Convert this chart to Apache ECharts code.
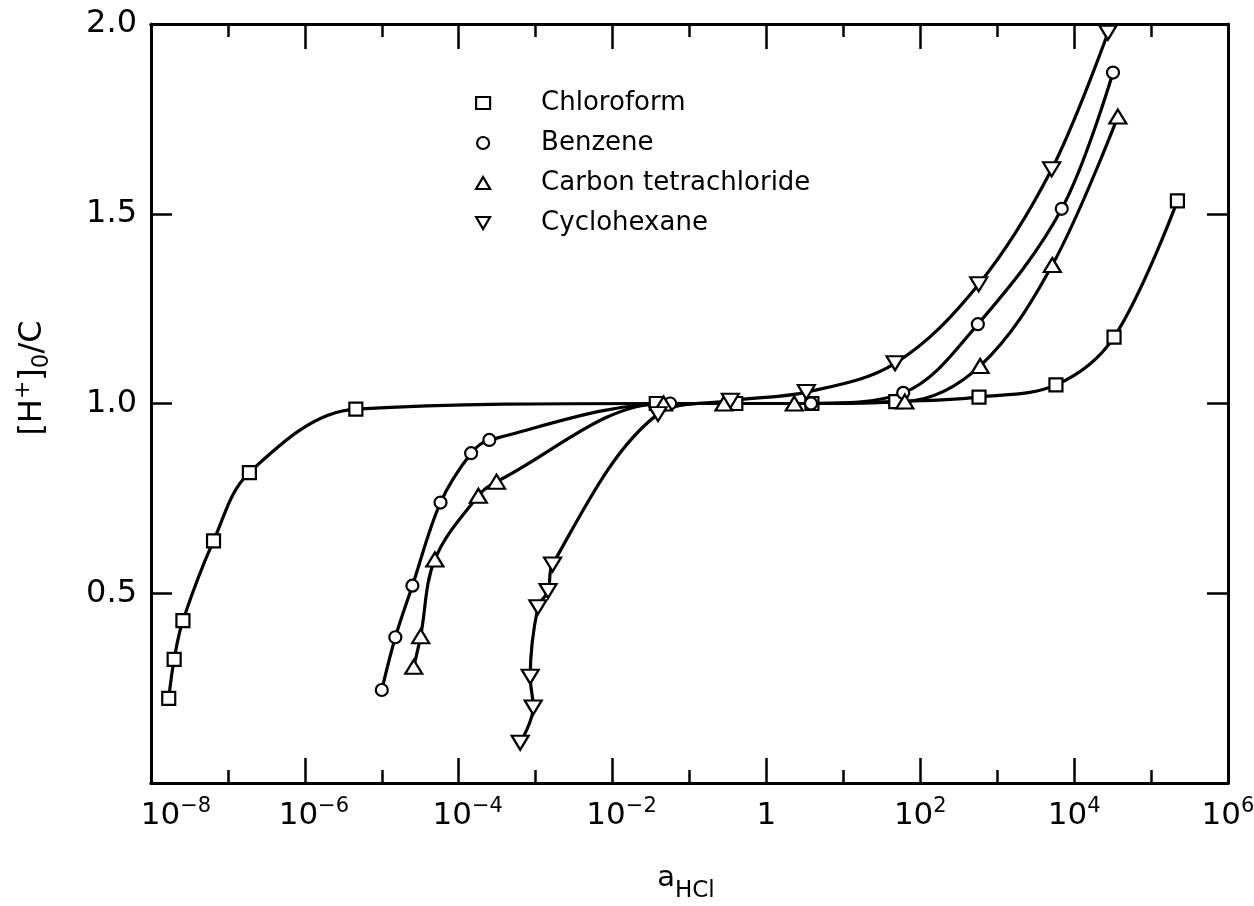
<!DOCTYPE html>
<html>
<head>
<meta charset="utf-8">
<script src="https://cdn.jsdelivr.net/npm/echarts@6/dist/echarts.min.js"></script>
<style>
html,body{margin:0;padding:0;background:#fff;}
#c{width:1254px;height:906px;}
</style>
</head>
<body>
<div id="c"></div>
<script>
// ---- data ----
const seriesNames = ['Chloroform', 'Benzene', 'Carbon tetrachloride', 'Cyclohexane'];

const chloroformA = [1.7e-8, 2.0e-8, 2.6e-8, 6.5e-8, 1.9e-7, 4.6e-6, 3.7e-2, 0.40, 3.9, 48, 580, 5800, 33000, 2.2e5];
const chloroformR = [0.223, 0.326, 0.428, 0.638, 0.818, 0.985, 1.0, 1.0, 1.0, 1.005, 1.017, 1.049, 1.175, 1.534];

const benzeneA = [1.0e-5, 1.5e-5, 2.5e-5, 5.8e-5, 1.45e-4, 2.5e-4, 5.6e-2, 3.8, 60, 560, 6900, 32000];
const benzeneR = [0.245, 0.384, 0.520, 0.739, 0.869, 0.904, 1.0, 1.0, 1.028, 1.209, 1.513, 1.872];

const cclA = [2.6e-5, 3.2e-5, 4.9e-5, 1.8e-4, 3.1e-4, 4.6e-2, 0.28, 2.3, 63, 600, 5200, 37000];
const cclR = [0.306, 0.387, 0.589, 0.757, 0.794, 1.0, 1.0, 1.0, 1.005, 1.099, 1.365, 1.756];

const cyclohexaneA = [6.3e-4, 9.3e-4, 8.5e-4, 1.07e-3, 1.45e-3, 1.66e-3, 3.9e-2, 0.34, 3.3, 47, 575, 5100, 27500];
const cyclohexaneR = [0.106, 0.199, 0.280, 0.463, 0.506, 0.576, 0.972, 1.007, 1.03, 1.106, 1.314, 1.617, 1.977];

const xMin = 1e-8, xMax = 1e6;
const yMin = 0, yMax = 2, yStep = 0.5;

// ---- chart ----
const FONT = 'DejaVu Sans';
const INK = '#000';
const chart = echarts.init(document.getElementById('c'), null, {renderer: 'canvas'});

function pairs(xs, ys) { return xs.map((x, i) => [x, ys[i]]); }

function xLabel(v) {
  const e = Math.round(Math.log10(v));
  if (e === 0) return '{b|1}';
  const sup = (e < 0 ? '\u2212' : '') + Math.abs(e);
  if (e === -8) return '{p8|10}{s|' + sup + '}';
  return (e < 0 ? '{pn|10}' : '{b|10}') + '{s|' + sup + '}';
}

const labelRich = {
  b:  {fontFamily: FONT, fontSize: 31, color: INK, lineHeight: 40},
  pn: {fontFamily: FONT, fontSize: 31, color: INK, lineHeight: 40, padding: [0, 0, 0, 18]},
  p8: {fontFamily: FONT, fontSize: 31, color: INK, lineHeight: 40, padding: [0, 0, 0, 50]},
  s:  {fontFamily: FONT, fontSize: 21, color: INK, lineHeight: 14, verticalAlign: 'top'}
};

function xAxisDef(pos, interval, tickLen, showLabel) {
  return {
    type: 'log', logBase: 10, min: xMin, max: xMax, interval: interval,
    position: pos, gridIndex: 0,
    axisLine: {show: true, onZero: false, lineStyle: {color: INK, width: 3}},
    axisTick: {show: true, inside: true, length: tickLen, lineStyle: {color: INK, width: 2.5}},
    axisLabel: {show: showLabel, margin: 13, formatter: xLabel, rich: labelRich},
    splitLine: {show: false}, minorTick: {show: false}, minorSplitLine: {show: false}
  };
}

function yAxisDef(pos, showLabel) {
  return {
    type: 'value', min: yMin, max: yMax, interval: yStep, position: pos, gridIndex: 0,
    axisLine: {show: true, onZero: false, lineStyle: {color: INK, width: 3}},
    axisTick: {show: true, inside: true, length: 21, lineStyle: {color: INK, width: 2.5}},
    axisLabel: {show: showLabel, showMinLabel: false, margin: 14, color: INK,
      fontFamily: FONT, fontSize: 32, formatter: v => v.toFixed(1)},
    splitLine: {show: false}
  };
}

const symbolStyle = {color: '#fff', borderColor: INK, borderWidth: 2.2};

function lineSeries(name, xs, ys, symbol, size, rotate) {
  return {
    name: name, type: 'line', xAxisIndex: 0, yAxisIndex: 0,
    data: pairs(xs, ys),
    smooth: 0.35,
    symbol: symbol, symbolSize: size, symbolRotate: rotate || 0,
    showSymbol: true, showAllSymbol: true,
    lineStyle: {color: INK, width: 3.2},
    itemStyle: symbolStyle,
    emphasis: {disabled: true},
    z: 3
  };
}

const option = {
  animation: false,
  backgroundColor: '#fff',
  grid: {left: 151, right: 26, top: 24, bottom: 123, containLabel: false, outerBoundsMode: 'none'},
  xAxis: [
    xAxisDef('bottom', 2, 25, true),
    xAxisDef('bottom', 1, 13, false),
    xAxisDef('top', 2, 25, false),
    xAxisDef('top', 1, 13, false)
  ],
  yAxis: [yAxisDef('left', true), yAxisDef('right', false)],
  legend: {
    orient: 'vertical', left: 470, top: 83,
    itemWidth: 14, itemHeight: 12, itemGap: 10,
    textStyle: {fontFamily: FONT, fontSize: 26, color: INK, lineHeight: 30, padding: [0, 0, 0, 46]},
    itemStyle: {color: '#fff', borderColor: INK, borderWidth: 2.2},
    selectedMode: false,
    data: [
      {name: seriesNames[0], icon: 'rect'},
      {name: seriesNames[1], icon: 'circle'},
      {name: seriesNames[2], icon: 'triangle'},
      {name: seriesNames[3], icon: 'path://M0,0L10,0L5,8.66Z'}
    ]
  },
  graphic: [{
    type: 'text', x: 33, y: 378, rotation: Math.PI / 2,
    style: {
      text: '{b|[H}{sp|+}{b|]}{sb|0}{b|/C}',
      align: 'center', verticalAlign: 'middle',
      rich: {
        b:  {fontFamily: FONT, fontSize: 32, fill: INK, lineHeight: 42},
        sp: {fontFamily: FONT, fontSize: 22, fill: INK, lineHeight: 20, verticalAlign: 'top'},
        sb: {fontFamily: FONT, fontSize: 23, fill: INK, lineHeight: 22, verticalAlign: 'bottom'}
      }
    }
  }, {
    type: 'text', x: 686, y: 878,
    style: {
      text: '{a|a}{h|HCl}',
      align: 'center', verticalAlign: 'middle',
      rich: {
        a: {fontFamily: FONT, fontSize: 29, fill: INK, lineHeight: 50},
        h: {fontFamily: FONT, fontSize: 23, fill: INK, lineHeight: 14, verticalAlign: 'bottom'}
      }
    }
  }],
  series: [
    lineSeries(seriesNames[0], chloroformA, chloroformR, 'rect', 13),
    lineSeries(seriesNames[1], benzeneA, benzeneR, 'circle', 12),
    lineSeries(seriesNames[2], cclA, cclR, 'triangle', [17, 14]),
    lineSeries(seriesNames[3], cyclohexaneA, cyclohexaneR, 'triangle', [17, 14], 180)
  ]
};

chart.setOption(option);
</script>
</body>
</html>
